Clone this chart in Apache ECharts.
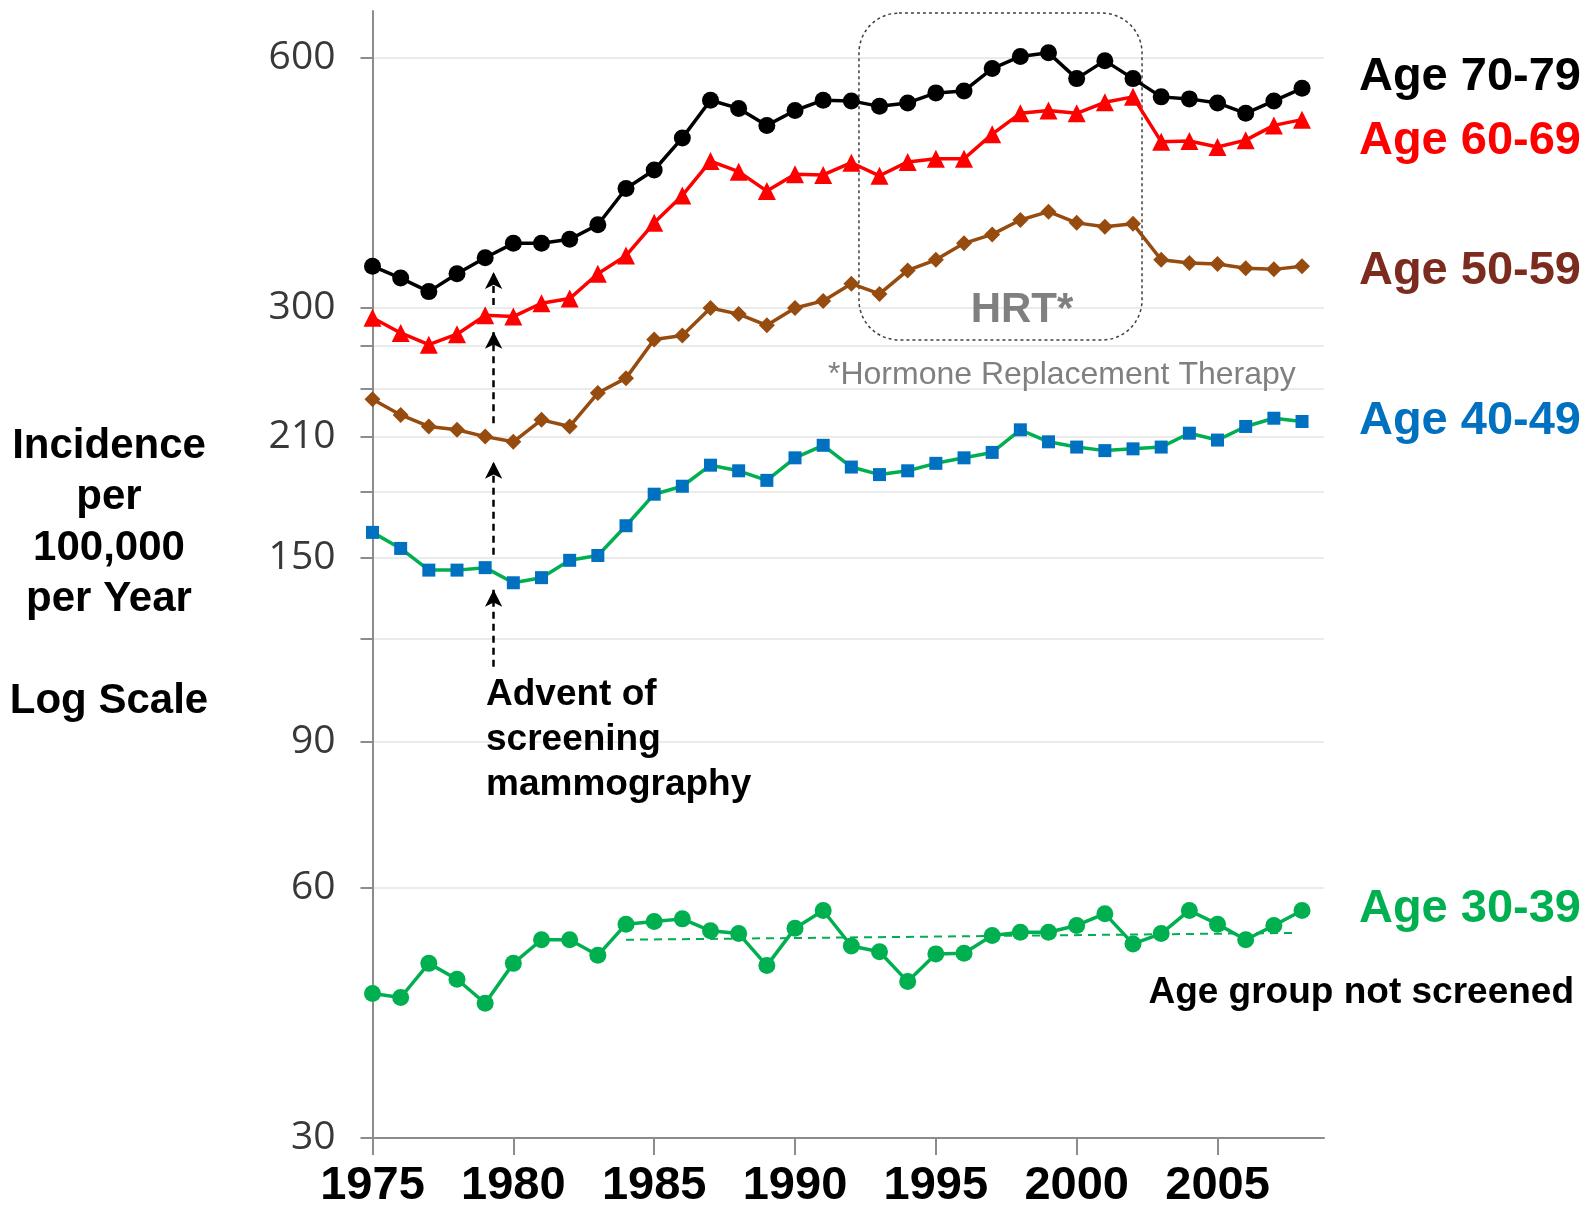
<!DOCTYPE html>
<html>
<head>
<meta charset="utf-8">
<title>Incidence by age group, log scale</title>
<script src="https://cdn.jsdelivr.net/npm/echarts@6/dist/echarts.min.js"></script>
<style>
  html, body { margin: 0; padding: 0; background: #fff; }
  #chart { width: 1587px; height: 1205px; }
</style>
</head>
<body>
<div id="chart"></div>
<script>
// data
const years = [1975, 1976, 1977, 1978, 1979, 1980, 1981, 1982, 1983, 1984,
               1985, 1986, 1987, 1988, 1989, 1990, 1991, 1992, 1993, 1994,
               1995, 1996, 1997, 1998, 1999, 2000, 2001, 2002, 2003, 2004,
               2005, 2006, 2007, 2008];
const age70 = [337, 326, 314, 330, 345, 359, 359, 363, 378, 418,
               440, 481, 534, 522, 498, 519, 534, 533, 525, 530,
               545, 548, 583, 603, 609, 567, 596, 567, 539, 536,
               530, 515, 533, 552];
const age60 = [292, 280, 271, 279, 294, 293, 304, 308, 330, 347,
               380, 410, 451, 438, 415, 435, 434, 449, 433, 450,
               454, 454, 486, 515, 519, 515, 531, 539, 476, 477,
               469, 478, 498, 506];
const age50 = [233, 223, 216, 214, 210, 207, 220, 216, 237, 247,
               275, 278, 300, 295, 286, 300, 306, 321, 312, 333,
               343, 359, 368, 383, 392, 380, 376, 379, 343, 340,
               339, 335, 334, 337];
const age40 = [161, 154, 145, 145, 146, 140, 142, 149, 151, 164,
               179, 183, 194, 191, 186, 198, 205, 193, 189, 191,
               195, 198, 201, 214, 207, 204, 202, 203, 204, 212,
               208, 216, 221, 219];
const age30 = [44.8, 44.3, 48.7, 46.6, 43.6, 48.7, 52.0, 52.0, 49.8, 54.3,
               54.7, 55.1, 53.3, 52.9, 48.4, 53.7, 56.4, 51.1, 50.3, 46.3,
               50.0, 50.1, 52.6, 53.1, 53.1, 54.1, 55.9, 51.4, 52.9, 56.4,
               54.3, 52.0, 54.1, 56.4];
// flat trend for the unscreened group
const trendYears = [1984, 2007.8];
const trendValues = [52.0, 53.0];

const yLabelValues = [30, 60, 90, 150, 210, 300, 600];
const yTickValues = [30, 60, 90, 120, 150, 180, 210, 240, 270, 300, 600];
const xLabelValues = [1975, 1980, 1985, 1990, 1995, 2000, 2005];

// "advent of screening" arrows: year and [from, to] values
const arrowYear = 1979.3;
const arrowSpans = [[302.6, 331.6], [218, 281], [151.3, 195.9], [110.9, 137.3]];
// HRT window: [x0, x1, yLow, yHigh]
const hrtBox = [1992.27, 2002.32, 274.6, 680];

const FONT = "'Liberation Sans', Arial, sans-serif";

function pairs(vals) {
  return years.map((y, i) => [y, vals[i]]);
}

function lineSeries(name, vals, lineColor, markColor, symbol, size) {
  return {
    name: name,
    type: 'line',
    data: pairs(vals),
    symbol: symbol,
    symbolSize: size,
    lineStyle: { color: lineColor, width: 3.5 },
    itemStyle: { color: markColor },
    z: 3
  };
}

const chart = echarts.init(document.getElementById('chart'));

const series = [
  lineSeries('Age 70-79', age70, '#000000', '#000000', 'circle', 17),
  lineSeries('Age 60-69', age60, '#ff0000', '#ff0000', 'triangle', 18),
  lineSeries('Age 50-59', age50, '#964b0f', '#964b0f', 'diamond', 16),
  lineSeries('Age 40-49', age40, '#00b050', '#0070c0', 'rect', 13),
  lineSeries('Age 30-39', age30, '#00b050', '#00b050', 'circle', 17),
  {
    name: 'trend',
    type: 'line',
    data: trendYears.map((y, i) => [y, trendValues[i]]),
    symbol: 'none',
    lineStyle: { color: '#00b050', width: 2, type: [8, 6] },
    z: 2,
    markLine: {
      silent: true,
      symbol: ['none', 'arrow'],
      symbolSize: [13, 17],
      label: { show: false },
      lineStyle: { color: '#000000', width: 2.5, type: [7, 5] },
      itemStyle: { color: '#000000' },
      data: arrowSpans.map(s => [
        { coord: [arrowYear, s[0]] },
        { coord: [arrowYear, s[1]] }
      ])
    }
  }
];

const texts = [
  { t: 'Age 70-79', x: 1581, y: 77, c: '#000000' },
  { t: 'Age 60-69', x: 1581, y: 141, c: '#ff0000' },
  { t: 'Age 50-59', x: 1581, y: 271, c: '#7b2c1f' },
  { t: 'Age 40-49', x: 1581, y: 421, c: '#0070c0' },
  { t: 'Age 30-39', x: 1581, y: 909, c: '#00b050' }
].map(d => ({
  type: 'text',
  x: d.x, y: d.y, z: 100,
  style: {
    text: d.t, fill: d.c,
    font: 'bold 47px ' + FONT,
    textAlign: 'right', textVerticalAlign: 'middle'
  }
}));

texts.push(
  {
    type: 'text', x: 1574, y: 993, z: 100,
    style: {
      text: 'Age group not screened', fill: '#000',
      font: 'bold 37px ' + FONT,
      textAlign: 'right', textVerticalAlign: 'middle'
    }
  },
  {
    type: 'text', x: 109, y: 421, z: 100,
    style: {
      text: 'Incidence\nper\n100,000\nper Year\n\nLog Scale', fill: '#000',
      font: 'bold 42px ' + FONT, lineHeight: 51,
      textAlign: 'center', textVerticalAlign: 'top'
    }
  },
  {
    type: 'text', x: 486, y: 672, z: 100,
    style: {
      text: 'Advent of\nscreening\nmammography', fill: '#000',
      font: 'bold 37px ' + FONT, lineHeight: 45,
      textAlign: 'left', textVerticalAlign: 'top'
    }
  },
  {
    type: 'text', x: 1022, y: 310, z: 100,
    style: {
      text: 'HRT*', fill: '#808080',
      font: 'bold 42px ' + FONT,
      textAlign: 'center', textVerticalAlign: 'middle'
    }
  },
  {
    type: 'text', x: 828, y: 375, z: 100,
    style: {
      text: '*Hormone Replacement Therapy', fill: '#808080',
      font: '32px ' + FONT,
      textAlign: 'left', textVerticalAlign: 'middle'
    }
  }
);

chart.setOption({
  animation: false,
  backgroundColor: '#ffffff',
  grid: { left: 372.5, right: 263, top: 11, bottom: 67, containLabel: false, outerBoundsMode: 'none' },
  xAxis: {
    type: 'value',
    min: 1975,
    max: 2008.78,
    axisLine: { show: true, lineStyle: { color: '#8c8c8c', width: 2 } },
    axisTick: { show: true, customValues: xLabelValues, length: 17, lineStyle: { color: '#8c8c8c', width: 2 } },
    axisLabel: {
      customValues: xLabelValues,
      formatter: v => String(v),
      color: '#000', fontFamily: FONT, fontWeight: 'bold', fontSize: 47,
      margin: 25
    },
    splitLine: { show: false }
  },
  yAxis: {
    type: 'log',
    logBase: 10,
    min: 30,
    max: 684,
    axisLine: { show: true, lineStyle: { color: '#8c8c8c', width: 2 } },
    axisTick: { show: true, customValues: yTickValues, length: 12, lineStyle: { color: '#8c8c8c', width: 2 } },
    axisLabel: {
      customValues: yLabelValues,
      color: '#383838', fontFamily: "'Open Sans', sans-serif", fontSize: 39,
      margin: 37
    },
    splitLine: { show: true, lineStyle: { color: '#ebebeb', width: 2 } }
  },
  series: series,
  graphic: { elements: texts }
});

// rounded dotted box around the HRT years, placed through the axes
const p1 = chart.convertToPixel({ gridIndex: 0 }, [hrtBox[0], hrtBox[3]]);
const p2 = chart.convertToPixel({ gridIndex: 0 }, [hrtBox[1], hrtBox[2]]);
chart.setOption({
  graphic: {
    elements: [{
      id: 'hrt',
      type: 'rect',
      shape: { x: p1[0], y: p1[1], width: p2[0] - p1[0], height: p2[1] - p1[1], r: 40 },
      style: { fill: 'none', stroke: '#404040', lineWidth: 1.5, lineDash: [3, 3] },
      z: 1
    }]
  }
});
</script>
</body>
</html>
